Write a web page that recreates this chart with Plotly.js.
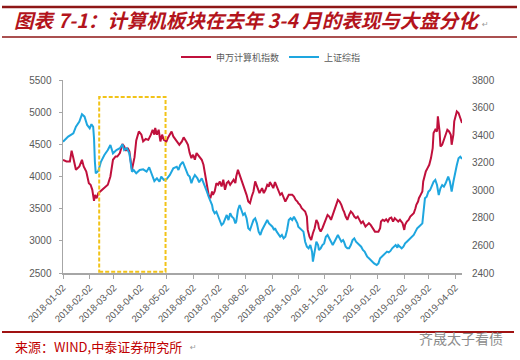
<!DOCTYPE html>
<html>
<head>
<meta charset="utf-8">
<script src="https://cdn.plot.ly/plotly-3.0.1.min.js"></script>
<style>html,body{margin:0;padding:0;background:#fff;}</style>
</head>
<body>
<div id="chart" style="width:520px;height:360px;"></div>
<script>
// ---- data ----
const seriesNames = ['申万计算机指数', '上证综指'];

const tickLabels = ['2018-01-02','2018-02-02','2018-03-02','2018-04-02','2018-05-02','2018-06-02','2018-07-02','2018-08-02',
  '2018-09-02','2018-10-02','2018-11-02','2018-12-02','2019-01-02','2019-02-02','2019-03-02','2019-04-02'];

// 申万计算机指数 (left axis)
const redDates = [
 '2018-01-02','2018-01-06','2018-01-10','2018-01-12','2018-01-14','2018-01-17','2018-01-21','2018-01-24','2018-01-26','2018-01-29',
 '2018-02-01','2018-02-03','2018-02-05','2018-02-07','2018-02-08','2018-02-10','2018-02-12','2018-02-15','2018-02-19','2018-02-23','2018-02-26',
 '2018-03-01','2018-03-04','2018-03-06','2018-03-09','2018-03-12','2018-03-14','2018-03-16','2018-03-18','2018-03-20','2018-03-23','2018-03-26','2018-03-28','2018-03-31',
 '2018-04-03','2018-04-05','2018-04-08','2018-04-11','2018-04-14','2018-04-16','2018-04-18','2018-04-19','2018-04-21','2018-04-23','2018-04-25','2018-04-27','2018-04-29',
 '2018-05-02','2018-05-04','2018-05-08','2018-05-10','2018-05-14','2018-05-17','2018-05-20','2018-05-22','2018-05-25','2018-05-27','2018-05-29','2018-05-31',
 '2018-06-02','2018-06-04','2018-06-06','2018-06-09','2018-06-12','2018-06-14','2018-06-16','2018-06-18','2018-06-20','2018-06-22','2018-06-24','2018-06-25','2018-06-27','2018-06-29',
 '2018-07-01','2018-07-03','2018-07-05','2018-07-07','2018-07-09','2018-07-11','2018-07-13','2018-07-15','2018-07-17','2018-07-19','2018-07-21','2018-07-22','2018-07-24','2018-07-26','2018-07-28','2018-07-30',
 '2018-08-01','2018-08-03','2018-08-05','2018-08-07','2018-08-09','2018-08-11','2018-08-13','2018-08-15','2018-08-18','2018-08-21','2018-08-23','2018-08-25','2018-08-27','2018-08-29','2018-08-30',
 '2018-09-01','2018-09-03','2018-09-05','2018-09-07','2018-09-09','2018-09-11','2018-09-13','2018-09-15','2018-09-17','2018-09-19','2018-09-21','2018-09-23','2018-09-25','2018-09-27','2018-09-29',
 '2018-10-01','2018-10-02','2018-10-04','2018-10-06','2018-10-08','2018-10-10','2018-10-12','2018-10-13','2018-10-15','2018-10-17','2018-10-19','2018-10-21','2018-10-23','2018-10-25','2018-10-26','2018-10-28','2018-10-30',
 '2018-11-01','2018-11-03','2018-11-05','2018-11-07','2018-11-09','2018-11-11','2018-11-13','2018-11-15','2018-11-17','2018-11-19','2018-11-21','2018-11-23','2018-11-24','2018-11-26','2018-11-28','2018-11-30',
 '2018-12-02','2018-12-04','2018-12-06','2018-12-08','2018-12-10','2018-12-12','2018-12-14','2018-12-16','2018-12-18','2018-12-19','2018-12-21','2018-12-23','2018-12-25','2018-12-27','2018-12-28','2018-12-30',
 '2019-01-01','2019-01-03','2019-01-05','2019-01-06','2019-01-08','2019-01-10','2019-01-12','2019-01-14','2019-01-16','2019-01-18','2019-01-20','2019-01-22','2019-01-24','2019-01-26','2019-01-28','2019-01-30','2019-01-31',
 '2019-02-02','2019-02-03','2019-02-05','2019-02-07','2019-02-09','2019-02-11','2019-02-13','2019-02-15','2019-02-16','2019-02-18','2019-02-19','2019-02-21','2019-02-23','2019-02-24','2019-02-26','2019-02-27',
 '2019-03-01','2019-03-03','2019-03-05','2019-03-07','2019-03-08','2019-03-10','2019-03-12','2019-03-13','2019-03-15','2019-03-16','2019-03-18','2019-03-20','2019-03-22','2019-03-24','2019-03-26','2019-03-28','2019-03-29','2019-03-31',
 '2019-04-01','2019-04-04','2019-04-06','2019-04-08','2019-04-10'
];
const redValues = [
 4260,4233,4233,4400,4286,4104,4156,4260,4156,4078,
 3897,3871,3793,3621,3715,3663,3741,3777,3819,3871,4000,
 4260,4311,4311,4364,4505,4467,4400,4442,4390,4104,4300,4560,4700,
 4650,4545,4583,4570,4650,4727,4650,4754,4650,4727,4545,4650,4570,
 4545,4608,4700,4623,4545,4494,4545,4608,4545,4494,4364,4286,
 4338,4260,4364,4311,4260,4182,4026,3844,3715,3663,3767,3715,3767,3897,
 3871,3923,3844,3949,3793,3897,3923,3871,3913,3949,3897,4000,4104,4026,3949,3871,
 3819,3715,3611,3585,3689,3767,3923,3844,3741,3819,3741,3793,3871,3844,3913,
 3871,3819,3913,3844,3767,3715,3741,3663,3611,3663,3715,3715,3715,3689,3637,
 3611,3585,3559,3507,3481,3456,3377,3170,3065,3014,3118,3196,3326,3274,3196,3143,3196,
 3274,3352,3403,3377,3326,3403,3481,3559,3637,3611,3559,3481,3456,3377,3326,3403,
 3456,3429,3377,3352,3377,3326,3274,3300,3248,3222,3248,3274,3248,3196,3170,3143,
 3143,3143,3196,3300,3326,3310,3336,3300,3352,3362,3300,3352,3326,3300,3326,3300,3274,
 3170,3248,3300,3326,3377,3403,3429,3507,3559,3611,3663,3715,3767,3923,4026,4078,
 4130,4182,4286,4442,4676,4727,4700,4935,4700,4467,4494,4572,4676,4727,4700,4650,4494,4650,
 4857,5012,4987,4909,4832
];

// 上证综指 (right axis)
const blueDates = [
 '2018-01-02','2018-01-08','2018-01-14','2018-01-17','2018-01-21','2018-01-24','2018-01-27','2018-01-30',
 '2018-02-02','2018-02-04','2018-02-06','2018-02-07','2018-02-08','2018-02-09','2018-02-12','2018-02-15','2018-02-19','2018-02-23','2018-02-26',
 '2018-03-01','2018-03-05','2018-03-09','2018-03-12','2018-03-14','2018-03-17','2018-03-20','2018-03-23','2018-03-25','2018-03-28',
 '2018-04-01','2018-04-05','2018-04-09','2018-04-12','2018-04-15','2018-04-18','2018-04-21','2018-04-24','2018-04-26','2018-04-29',
 '2018-05-02','2018-05-06','2018-05-10','2018-05-14','2018-05-16','2018-05-18','2018-05-21','2018-05-23','2018-05-25','2018-05-27','2018-05-29','2018-05-31',
 '2018-06-02','2018-06-04','2018-06-07','2018-06-09','2018-06-12','2018-06-14','2018-06-16','2018-06-18','2018-06-20','2018-06-22','2018-06-24','2018-06-25','2018-06-27','2018-06-29',
 '2018-07-01','2018-07-03','2018-07-05','2018-07-07','2018-07-09','2018-07-11','2018-07-13','2018-07-15','2018-07-17','2018-07-19','2018-07-21','2018-07-22','2018-07-24','2018-07-26','2018-07-28','2018-07-30',
 '2018-08-01','2018-08-03','2018-08-05','2018-08-07','2018-08-09','2018-08-11','2018-08-13','2018-08-15','2018-08-17','2018-08-19','2018-08-21','2018-08-23','2018-08-25','2018-08-27','2018-08-29','2018-08-31',
 '2018-09-02','2018-09-04','2018-09-05','2018-09-07','2018-09-09','2018-09-11','2018-09-13','2018-09-15','2018-09-17','2018-09-19','2018-09-21','2018-09-23','2018-09-25','2018-09-27','2018-09-29',
 '2018-10-01','2018-10-02','2018-10-04','2018-10-06','2018-10-08','2018-10-10','2018-10-12','2018-10-14','2018-10-16','2018-10-18','2018-10-19','2018-10-21','2018-10-23','2018-10-25','2018-10-26','2018-10-28','2018-10-30',
 '2018-11-01','2018-11-03','2018-11-05','2018-11-07','2018-11-09','2018-11-11','2018-11-13','2018-11-15','2018-11-17','2018-11-19','2018-11-21','2018-11-23','2018-11-24','2018-11-26','2018-11-28','2018-11-30',
 '2018-12-02','2018-12-04','2018-12-06','2018-12-08','2018-12-10','2018-12-12','2018-12-14','2018-12-16','2018-12-18','2018-12-20','2018-12-21','2018-12-23','2018-12-25','2018-12-27','2018-12-29',
 '2019-01-01','2019-01-03','2019-01-05','2019-01-07','2019-01-09','2019-01-11','2019-01-13','2019-01-15','2019-01-17','2019-01-19','2019-01-21','2019-01-23','2019-01-25','2019-01-26','2019-01-28','2019-01-30',
 '2019-02-01','2019-02-03','2019-02-05','2019-02-07','2019-02-09','2019-02-11','2019-02-13','2019-02-15','2019-02-17','2019-02-19','2019-02-21','2019-02-23','2019-02-24','2019-02-25','2019-02-26','2019-02-28',
 '2019-03-02','2019-03-04','2019-03-06','2019-03-08','2019-03-10','2019-03-12','2019-03-14','2019-03-16','2019-03-18','2019-03-20','2019-03-22','2019-03-24','2019-03-25','2019-03-27','2019-03-29','2019-03-31',
 '2019-04-02','2019-04-04','2019-04-06','2019-04-08','2019-04-10'
];
const blueValues = [
 3352,3389,3413,3461,3498,3551,3534,3474,
 3450,3479,3461,3377,3207,3123,3140,3207,3256,3292,3329,
 3268,3292,3305,3334,3292,3305,3268,3135,3147,3123,
 3147,3152,3135,3167,3123,3067,3087,3062,3099,3075,
 3080,3111,3159,3171,3147,3183,3207,3171,3135,3111,3099,3051,
 3087,3111,3087,3058,3087,3058,3026,2990,2953,2917,2893,2857,2833,2845,
 2808,2784,2748,2760,2797,2821,2784,2833,2808,2797,2760,2772,2857,2893,2857,2821,
 2833,2797,2724,2712,2748,2784,2797,2760,2700,2676,2712,2736,2760,2784,2760,2748,
 2736,2712,2724,2700,2676,2663,2676,2651,2663,2712,2784,2797,2784,2808,2784,
 2760,2736,2724,2712,2700,2627,2591,2579,2603,2555,2482,2555,2627,2603,2567,2579,2603,
 2615,2663,2676,2651,2627,2603,2627,2651,2676,2651,2627,2639,2627,2591,2579,2579,
 2603,2639,2651,2627,2615,2603,2591,2567,2555,2531,2518,2507,2494,2482,2470,
 2458,2470,2507,2518,2531,2543,2555,2550,2560,2579,2591,2603,2584,2603,2591,2579,
 2591,2615,2627,2639,2651,2663,2676,2700,2724,2736,2748,2760,2821,2917,2942,2953,
 2990,3002,3038,3062,3075,3038,2966,3014,3038,3026,3051,3087,3099,3062,2990,3062,
 3135,3183,3232,3244,3227
];

// highlighted period (yellow dashed box)
const highlightStart = '2018-02-13';
const highlightEnd = '2018-05-01';
const highlightTop = 5237;
const highlightBottom = 2520;

const titleText = '图表 7-1：计算机板块在去年 3-4 月的表现与大盘分化';
const sourceText = '来源：WIND,中泰证券研究所';
const watermarkText = '齐晟太子看债';

// ---- geometry helpers (pixel -> paper) ----
const PL = 63, PR = 462, PT = 80, PB = 273;
const px = x => (x - PL) / (PR - PL);
const py = y => (PB - y) / (PB - PT);

const RED = '#c0103c', BLUE = '#1ea6df', DARKRED = '#8e1616';
const GRAY = '#595959';

const traces = [
  {x: redDates, y: redValues, name: seriesNames[0], type: 'scatter', mode: 'lines',
   line: {color: RED, width: 2}, yaxis: 'y'},
  {x: blueDates, y: blueValues, name: seriesNames[1], type: 'scatter', mode: 'lines',
   line: {color: BLUE, width: 2}, yaxis: 'y2'}
];

const layout = {
  width: 520, height: 360,
  margin: {l: PL, r: 520 - PR, t: PT, b: 360 - PB, pad: 0},
  paper_bgcolor: '#ffffff', plot_bgcolor: '#ffffff',
  font: {family: 'Liberation Sans, Arial, sans-serif', color: GRAY, size: 10},
  showlegend: true,
  title: {
    text: '<b><i>' + titleText + '</i></b>',
    font: {family: 'Noto Sans CJK SC', size: 19.5, color: '#b3141c'},
    xref: 'container', yref: 'container',
    x: 14 / 520, xanchor: 'left', y: 1 - 21 / 360, yanchor: 'middle'
  },
  legend: {
    orientation: 'h', x: px(176), xanchor: 'left', y: py(57), yanchor: 'middle',
    font: {family: 'Noto Sans CJK SC', size: 9, color: GRAY},
    bgcolor: 'rgba(0,0,0,0)', itemwidth: 30
  },
  xaxis: {
    type: 'date', range: ['2018-01-02', '2019-04-10'],
    tickmode: 'array', tickvals: tickLabels, ticktext: tickLabels,
    tickangle: -45, ticks: 'outside', ticklen: 4, tickwidth: 1, tickcolor: '#a6a6a6',
    showline: true, linecolor: '#a6a6a6', linewidth: 1.5,
    showgrid: false, zeroline: false,
    tickfont: {size: 9.5, color: GRAY, family: 'Liberation Sans, Arial, sans-serif'}
  },
  yaxis: {
    range: [2500, 5500], dtick: 500, tick0: 2500,
    ticks: 'outside', ticklen: 3, tickcolor: '#a6a6a6',
    showline: true, linecolor: '#a6a6a6', linewidth: 1.5,
    showgrid: false, zeroline: false,
    tickfont: {size: 10, color: GRAY}, ticklabelstandoff: 5
  },
  yaxis2: {
    overlaying: 'y', side: 'right',
    range: [2400, 3800], dtick: 200, tick0: 2400,
    ticks: '', showline: false, showgrid: false, zeroline: false,
    tickfont: {size: 10, color: GRAY}, ticklabelstandoff: 9
  },
  shapes: [
    {type: 'line', xref: 'paper', yref: 'paper', x0: px(2), x1: px(517), y0: py(7), y1: py(7),
     line: {color: DARKRED, width: 2.5}},
    {type: 'line', xref: 'paper', yref: 'paper', x0: px(2), x1: px(517), y0: py(37), y1: py(37),
     line: {color: DARKRED, width: 1.5}},
    {type: 'line', xref: 'paper', yref: 'paper', x0: px(2), x1: px(514), y0: py(332), y1: py(332),
     line: {color: '#a01212', width: 2}},
    {type: 'rect', xref: 'x', yref: 'y', x0: highlightStart, x1: highlightEnd,
     y0: highlightBottom, y1: highlightTop,
     line: {color: '#f2c318', width: 2, dash: '4px,2px'}, fillcolor: 'rgba(0,0,0,0)'}
  ],
  annotations: [
    {xref: 'paper', yref: 'paper', x: px(480), y: py(24), text: '↵', showarrow: false,
     xanchor: 'left', yanchor: 'middle', font: {size: 8, color: '#9a9a9a', family: 'DejaVu Sans'}},
    {xref: 'paper', yref: 'paper', x: px(13), y: py(346), text: sourceText, showarrow: false,
     xanchor: 'left', yanchor: 'middle',
     font: {size: 13, color: '#c00000', family: 'Noto Sans CJK SC'}},
    {xref: 'paper', yref: 'paper', x: px(188), y: py(347), text: '↵', showarrow: false,
     xanchor: 'left', yanchor: 'middle', font: {size: 8, color: '#9a9a9a', family: 'DejaVu Sans'}},
    {xref: 'paper', yref: 'paper', x: px(505), y: py(338), text: watermarkText, showarrow: false,
     xanchor: 'right', yanchor: 'middle', font: {size: 14, color: '#8c8c8c', family: 'Noto Sans CJK SC'}}
  ]
};

Plotly.newPlot('chart', traces, layout, {displayModeBar: false, staticPlot: true});
</script>
</body>
</html>
